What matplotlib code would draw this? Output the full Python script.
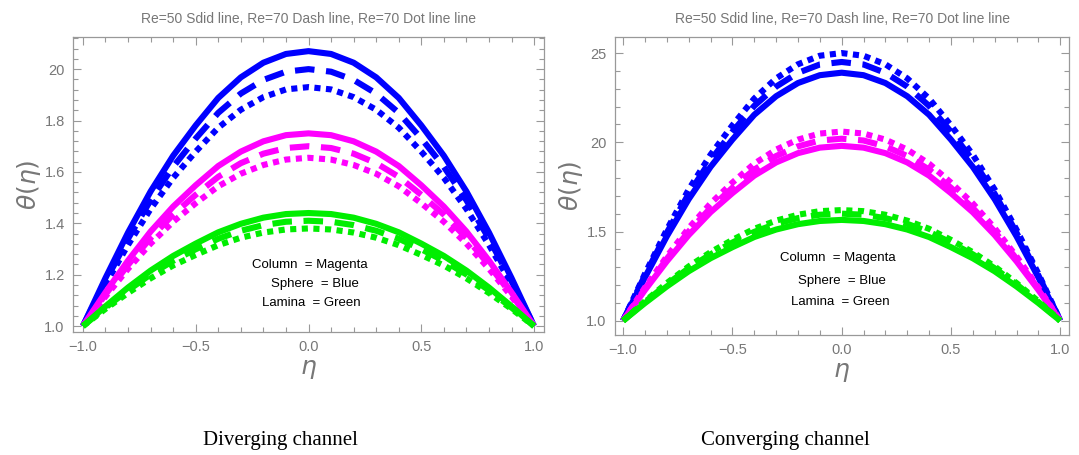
import numpy as np
import matplotlib.pyplot as plt
from matplotlib.ticker import MultipleLocator, FixedLocator, FixedFormatter

# eta grid
eta = [-1.0, -0.9, -0.8, -0.7, -0.6, -0.5, -0.4, -0.3, -0.2, -0.1, 0.0,
       0.1, 0.2, 0.3, 0.4, 0.5, 0.6, 0.7, 0.8, 0.9, 1.0]

# Diverging channel (left)
div_sphere_50 = [1.000, 1.187, 1.364, 1.524, 1.663, 1.781, 1.888, 1.968, 2.025, 2.059, 2.070,
                 2.059, 2.025, 1.968, 1.888, 1.781, 1.663, 1.524, 1.364, 1.187, 1.000]
div_sphere_70d = [1.000, 1.175, 1.340, 1.490, 1.620, 1.730, 1.830, 1.905, 1.958, 1.990, 2.000,
                  1.990, 1.958, 1.905, 1.830, 1.730, 1.620, 1.490, 1.340, 1.175, 1.000]
div_sphere_70o = [1.000, 1.163, 1.316, 1.456, 1.577, 1.679, 1.772, 1.842, 1.891, 1.921, 1.930,
                  1.921, 1.891, 1.842, 1.772, 1.679, 1.577, 1.456, 1.316, 1.163, 1.000]
div_column_50 = [1.000, 1.131, 1.255, 1.368, 1.465, 1.548, 1.623, 1.679, 1.719, 1.743, 1.750,
                 1.743, 1.719, 1.679, 1.623, 1.548, 1.465, 1.368, 1.255, 1.131, 1.000]
div_column_70d = [1.000, 1.123, 1.238, 1.343, 1.434, 1.511, 1.581, 1.634, 1.671, 1.693, 1.700,
                  1.693, 1.671, 1.634, 1.581, 1.511, 1.434, 1.343, 1.238, 1.123, 1.000]
div_column_70o = [1.000, 1.115, 1.223, 1.321, 1.406, 1.478, 1.544, 1.593, 1.627, 1.648, 1.655,
                  1.648, 1.627, 1.593, 1.544, 1.478, 1.406, 1.321, 1.223, 1.115, 1.000]
div_lamina_50 = [1.000, 1.077, 1.150, 1.216, 1.273, 1.321, 1.365, 1.398, 1.422, 1.436, 1.440,
                 1.436, 1.422, 1.398, 1.365, 1.321, 1.273, 1.216, 1.150, 1.077, 1.000]
div_lamina_70d = [1.000, 1.072, 1.139, 1.201, 1.254, 1.299, 1.340, 1.371, 1.393, 1.406, 1.410,
                  1.406, 1.393, 1.371, 1.340, 1.299, 1.254, 1.201, 1.139, 1.072, 1.000]
div_lamina_70o = [1.000, 1.067, 1.129, 1.186, 1.236, 1.277, 1.315, 1.344, 1.364, 1.376, 1.380,
                  1.376, 1.364, 1.344, 1.315, 1.277, 1.236, 1.186, 1.129, 1.067, 1.000]

# Converging channel (right)
con_sphere_50 = [1.000, 1.243, 1.473, 1.681, 1.862, 2.015, 2.154, 2.258, 2.332, 2.376, 2.390,
                 2.376, 2.332, 2.258, 2.154, 2.015, 1.862, 1.681, 1.473, 1.243, 1.000]
con_sphere_70d = [1.000, 1.254, 1.493, 1.711, 1.899, 2.059, 2.204, 2.312, 2.389, 2.436, 2.450,
                  2.436, 2.389, 2.312, 2.204, 2.059, 1.899, 1.711, 1.493, 1.254, 1.000]
con_sphere_70o = [1.000, 1.263, 1.510, 1.735, 1.930, 2.095, 2.245, 2.358, 2.437, 2.485, 2.500,
                  2.485, 2.437, 2.358, 2.245, 2.095, 1.930, 1.735, 1.510, 1.263, 1.000]
con_column_50 = [1.000, 1.172, 1.333, 1.480, 1.608, 1.715, 1.813, 1.887, 1.939, 1.970, 1.980,
                 1.970, 1.939, 1.887, 1.813, 1.715, 1.608, 1.480, 1.333, 1.172, 1.000]
con_column_70d = [1.000, 1.179, 1.347, 1.500, 1.632, 1.745, 1.847, 1.923, 1.977, 2.010, 2.020,
                  2.010, 1.977, 1.923, 1.847, 1.745, 1.632, 1.500, 1.347, 1.179, 1.000]
con_column_70o = [1.000, 1.186, 1.360, 1.519, 1.657, 1.774, 1.880, 1.959, 2.015, 2.049, 2.060,
                  2.049, 2.015, 1.959, 1.880, 1.774, 1.657, 1.519, 1.360, 1.186, 1.000]
con_lamina_50 = [1.000, 1.099, 1.192, 1.277, 1.350, 1.412, 1.469, 1.511, 1.541, 1.559, 1.565,
                 1.559, 1.541, 1.511, 1.469, 1.412, 1.350, 1.277, 1.192, 1.099, 1.000]
con_lamina_70d = [1.000, 1.105, 1.204, 1.294, 1.372, 1.438, 1.498, 1.543, 1.575, 1.594, 1.600,
                  1.594, 1.575, 1.543, 1.498, 1.438, 1.372, 1.294, 1.204, 1.105, 1.000]
con_lamina_70o = [1.000, 1.109, 1.211, 1.304, 1.384, 1.453, 1.515, 1.561, 1.594, 1.614, 1.620,
                  1.614, 1.594, 1.561, 1.515, 1.453, 1.384, 1.304, 1.211, 1.109, 1.000]

title_text = "Re=50 Sdid line, Re=70 Dash line, Re=70 Dot line line"
legend_lines = ["Column  = Magenta", "Sphere  = Blue", "Lamina  = Green"]

gray = '#777777'
plt.rcParams['font.family'] = ['Liberation Sans', 'DejaVu Sans']

fig = plt.figure(figsize=(10.79, 4.55), dpi=100)
W, H = 1079.0, 455.0

def make_axes(left, right, top, bottom):
    return fig.add_axes([left / W, 1 - bottom / H, (right - left) / W, (bottom - top) / H])

lw = 4.4
dash = (0, (3.2, 1.9))
dot = (0, (1.0, 0.9))

def draw(ax, curves):
    for y, col, ls in curves:
        if ls == '-':
            ax.plot(eta, y, color=col, lw=lw, solid_capstyle='butt', solid_joinstyle='round')
        else:
            ax.plot(eta, y, color=col, lw=lw, linestyle=ls, dash_capstyle='butt')

def style(ax, xlim, ylim, ymaj, ymin, ylabels):
    ax.set_xlim(*xlim)
    ax.set_ylim(*ylim)
    ax.xaxis.set_minor_locator(MultipleLocator(0.1))
    ax.yaxis.set_major_locator(FixedLocator(ymaj))
    ax.yaxis.set_major_formatter(FixedFormatter(ylabels))
    ax.yaxis.set_minor_locator(MultipleLocator(ymin))
    ax.set_xticks([-1.0, -0.5, 0.0, 0.5, 1.0])
    ax.set_xticklabels(['\u22121.0', '\u22120.5', '0.0', '0.5', '1.0'])
    ax.tick_params(which='both', direction='in', top=True, right=True, color='#999999',
                   labelcolor=gray, labelsize=10.5, width=0.8)
    ax.tick_params(which='major', length=6, pad=6)
    ax.tick_params(which='minor', length=3.5)
    for s in ax.spines.values():
        s.set_color('#999999')
        s.set_linewidth(0.9)
    ax.set_xlabel(r'$\eta$', color=gray, fontsize=18, labelpad=2)
    ax.set_ylabel(r'$\theta(\eta)$', color=gray, fontsize=18, labelpad=1)
    ax.set_title(title_text, color=gray, fontsize=10, pad=10)

# left panel
ax1 = make_axes(73, 544, 37, 332)
draw(ax1, [
    (div_sphere_50, 'blue', '-'), (div_sphere_70d, 'blue', dash), (div_sphere_70o, 'blue', dot),
    (div_column_50, 'magenta', '-'), (div_column_70d, 'magenta', dash), (div_column_70o, 'magenta', dot),
    (div_lamina_50, '#00ee00', '-'), (div_lamina_70d, '#00ee00', dash), (div_lamina_70o, '#00ee00', dot),
])
style(ax1, (-1.044, 1.044), (0.977, 2.125), [1.0, 1.2, 1.4, 1.6, 1.8, 2.0], 0.04,
      ['1.0', '1.2', '1.4', '1.6', '1.8', '20'])
for txt, xf, yf in zip(legend_lines, [0.503, 0.514, 0.507], [0.227, 0.163, 0.098]):
    ax1.text(xf, yf, txt, transform=ax1.transAxes, ha='center', va='center',
             fontsize=9.5, color='black', fontstretch='condensed')

# right panel
ax2 = make_axes(615, 1069, 37, 335)
draw(ax2, [
    (con_sphere_50, 'blue', '-'), (con_sphere_70d, 'blue', dash), (con_sphere_70o, 'blue', dot),
    (con_column_50, 'magenta', '-'), (con_column_70d, 'magenta', dash), (con_column_70o, 'magenta', dot),
    (con_lamina_50, '#00ee00', '-'), (con_lamina_70d, '#00ee00', dash), (con_lamina_70o, '#00ee00', dot),
])
style(ax2, (-1.037, 1.04), (0.92, 2.59), [1.0, 1.5, 2.0, 2.5], 0.1,
      ['1.0', '1.5', '20', '25'])
for txt, xf, yf in zip(legend_lines, [0.491, 0.50, 0.496], [0.258, 0.181, 0.111]):
    ax2.text(xf, yf, txt, transform=ax2.transAxes, ha='center', va='center',
             fontsize=9.5, color='black', fontstretch='condensed')

# captions
fig.text(280 / W, 1 - 441 / H, 'Diverging channel', ha='center', va='center',
         fontsize=15, family=['Liberation Serif', 'DejaVu Serif'], color='black')
fig.text(785 / W, 1 - 441 / H, 'Converging channel', ha='center', va='center',
         fontsize=15, family=['Liberation Serif', 'DejaVu Serif'], color='black')

fig.savefig('out.png', dpi=100)
